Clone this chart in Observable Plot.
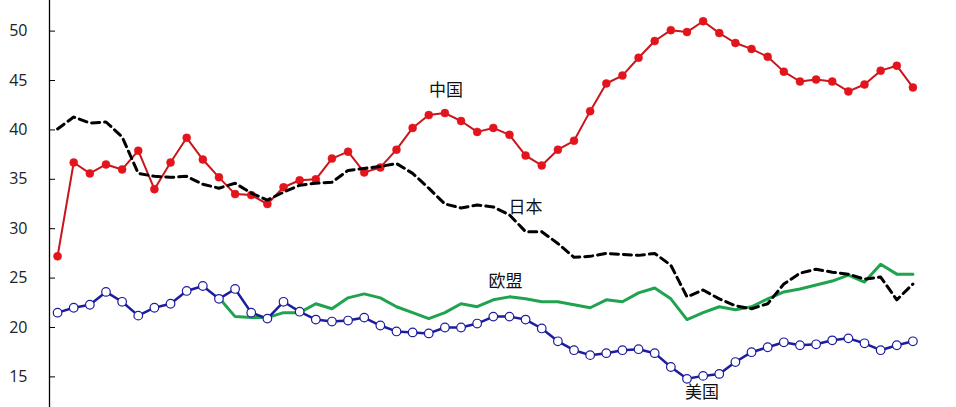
<!DOCTYPE html>
<html><head><meta charset="utf-8">
<script src="https://cdn.jsdelivr.net/npm/d3@7"></script>
<script src="https://cdn.jsdelivr.net/npm/@observablehq/plot@0.6"></script>
<style>html,body{margin:0;padding:0;background:#fff}#chart svg{display:block}</style>
</head><body><div id="chart"></div>
<script>
const china = [27.2,36.7,35.6,36.5,36.0,37.9,34.0,36.7,39.2,37.0,35.2,33.5,33.4,32.5,34.2,34.9,35.0,37.1,37.8,35.7,36.2,38.0,40.2,41.5,41.7,40.9,39.8,40.2,39.5,37.4,36.4,38.0,38.9,41.9,44.7,45.5,47.3,49.0,50.1,49.9,51.0,49.8,48.8,48.2,47.4,45.9,44.9,45.1,44.9,43.9,44.6,46.0,46.5,44.3];
const japan = [40.1,41.3,40.7,40.8,39.3,35.6,35.3,35.2,35.3,34.5,34.1,34.6,33.6,32.9,33.7,34.4,34.6,34.7,35.9,36.1,36.3,36.6,35.6,34.1,32.5,32.1,32.4,32.2,31.4,29.7,29.7,28.5,27.1,27.2,27.5,27.4,27.3,27.5,26.3,23.1,23.8,22.9,22.2,21.9,22.4,24.4,25.5,25.9,25.6,25.4,24.9,25.1,22.8,24.4];
const eu = [null,null,null,null,null,null,null,null,null,null,23.0,21.1,21.0,21.0,21.5,21.5,22.4,21.9,23.0,23.4,23.0,22.1,21.5,20.9,21.5,22.4,22.1,22.8,23.1,22.9,22.6,22.6,22.3,22.0,22.8,22.6,23.5,24.0,22.9,20.8,21.5,22.1,21.8,22.1,22.9,23.6,23.9,24.3,24.7,25.3,24.6,26.4,25.4,25.4];
const usa = [21.5,22.0,22.3,23.6,22.6,21.2,22.0,22.4,23.7,24.2,22.9,23.9,21.5,20.9,22.6,21.6,20.8,20.6,20.7,21.0,20.2,19.6,19.5,19.4,20.0,20.0,20.4,21.1,21.1,20.8,19.9,18.6,17.7,17.2,17.4,17.7,17.8,17.4,16.0,14.8,15.1,15.3,16.5,17.5,18.0,18.5,18.2,18.3,18.7,18.9,18.4,17.7,18.2,18.6];
const yTicks = [15,20,25,30,35,40,45,50];
const seriesNames = ["中国","日本","欧盟","美国"];
// label anchor: index of the point the label sits next to
const labelIndex = [24,28,28,40];

const rows = (arr) => arr.map((v,i)=>({i, v})).filter(d => d.v != null);
const cn = rows(china), jp = rows(japan), e = rows(eu), us = rows(usa);
const seriesRows = [cn, jp, e, us];
const labels = seriesNames.map((name,k)=>({name, ...seriesRows[k].find(d=>d.i===labelIndex[k])}));
const labelOffsets = [[1,-23],[16,-7],[-4,-15],[-1,17]];
labels.forEach((d,k)=>{d.dx = labelOffsets[k][0]; d.dy = labelOffsets[k][1];});

const cjk = "'Noto Sans CJK SC', sans-serif";
const chart = Plot.plot({
  width: 956, height: 407,
  marginLeft: 49, marginRight: 0, marginTop: 0, marginBottom: 0,
  style: {fontFamily: "'Open Sans', sans-serif", fontSize: "16px", color: "#222", background: "#fff"},
  x: {type: "linear", domain: [-0.5, 55.7], axis: null},
  y: {domain: [11.9, 53.1]},
  marks: [
    Plot.axisY({ticks: yTicks, tickSize: -6, tickPadding: 28, label: null, stroke: "#000", fill: "#222"}),
    Plot.frame({anchor: "left", stroke: "#000", strokeWidth: 1.3}),
    Plot.line(e, {x: "i", y: "v", stroke: "#1fa34f", strokeWidth: 3}),
    Plot.line(us, {x: "i", y: "v", stroke: "#1d1d9e", strokeWidth: 2.5}),
    Plot.dot(us, {x: "i", y: "v", r: 4.3, fill: "#fff", stroke: "#1d1d9e", strokeWidth: 1.2}),
    Plot.line(cn, {x: "i", y: "v", stroke: "#c8161d", strokeWidth: 2}),
    Plot.dot(cn, {x: "i", y: "v", r: 4, fill: "#e3141c", stroke: "#e3141c", strokeWidth: 0.5}),
    Plot.line(jp, {x: "i", y: "v", stroke: "#000", strokeWidth: 3, strokeDasharray: "8,5"}),
    ...labels.map(d => Plot.text([d], {x: "i", y: "v", text: "name", dx: d.dx, dy: d.dy, fontFamily: cjk, fontSize: 17, fill: "#111"}))
  ]
});
document.getElementById("chart").appendChild(chart);
</script>
</body></html>
